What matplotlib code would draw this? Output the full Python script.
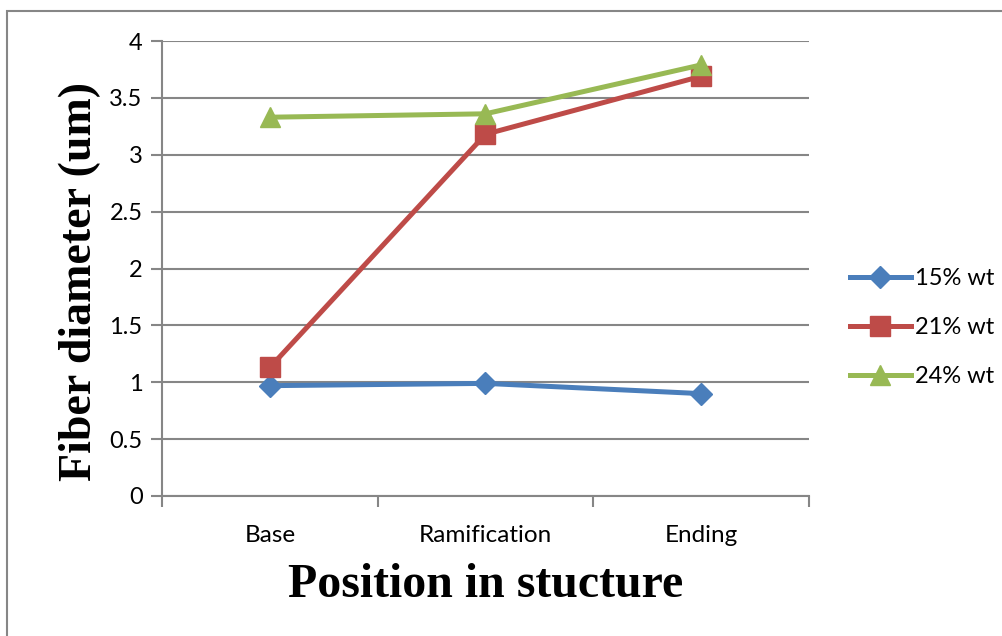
import matplotlib.pyplot as plt
from matplotlib.patches import Rectangle
from matplotlib.ticker import FixedLocator

positions = ["Base", "Ramification", "Ending"]
wt15 = [0.97, 0.99, 0.90]
wt21 = [1.13, 3.18, 3.69]
wt24 = [3.33, 3.36, 3.79]
series_names = ["15% wt", "21% wt", "24% wt"]
yticks = [0, 0.5, 1, 1.5, 2, 2.5, 3, 3.5, 4]

GRID = "#868686"
SANS = ["Lato", "DejaVu Sans"]

fig = plt.figure(figsize=(10.03, 6.36), dpi=100)
fig.patches.append(Rectangle((7 / 1003, -0.1), 1.2, 1 - 11 / 636 + 0.1,
                             transform=fig.transFigure, fill=False,
                             edgecolor=GRID, linewidth=1.5))

ax = fig.add_axes([162 / 1003, 1 - 496 / 636, 647 / 1003, 455 / 636])
x = list(range(len(positions)))

ax.plot(x, wt15, color="#4A7EBB", lw=3.6, marker="D", ms=11, label=series_names[0], zorder=3)
ax.plot(x, wt21, color="#BE4B48", lw=3.6, marker="s", ms=14, label=series_names[1], zorder=3)
ax.plot(x, wt24, color="#98B954", lw=3.6, marker="^", ms=15, label=series_names[2], zorder=4)

ax.set_xlim(-0.5, len(positions) - 0.5)
ax.set_ylim(0, 4)
ax.set_yticks(yticks)
ax.set_yticklabels([f"{v:g}" for v in yticks], fontfamily=SANS, fontsize=17)
ax.yaxis.grid(True, color=GRID, lw=1.5)
ax.set_axisbelow(True)

ax.set_xticks(x)
ax.set_xticklabels(positions, fontfamily=SANS, fontsize=17.5)
ax.xaxis.set_minor_locator(FixedLocator([-0.5, 0.5, 1.5, 2.5]))
ax.tick_params(axis="x", which="major", length=0, pad=21)
ax.tick_params(axis="x", which="minor", length=8, width=1.5, color=GRID)
ax.tick_params(axis="y", length=8, width=1.5, color=GRID, pad=6)

for side in ("top", "right"):
    ax.spines[side].set_visible(False)
for side in ("left", "bottom"):
    ax.spines[side].set_color(GRID)
    ax.spines[side].set_linewidth(1.5)

ax.set_xlabel("Position in stucture", fontfamily="Liberation Serif",
              fontweight="bold", fontsize=34.5, labelpad=12)
ax.set_ylabel("Fiber diameter (um)", fontfamily="Liberation Serif",
              fontweight="bold", fontsize=33, labelpad=8)
ax.yaxis.set_label_coords(-0.094, 0.472)

leg = ax.legend(loc="center left", bbox_to_anchor=(1.03, 0.37), frameon=False,
                prop={"family": SANS, "size": 17}, handlelength=2.6,
                handletextpad=0.15, labelspacing=1.2)

fig.savefig("out.png", dpi=100)
